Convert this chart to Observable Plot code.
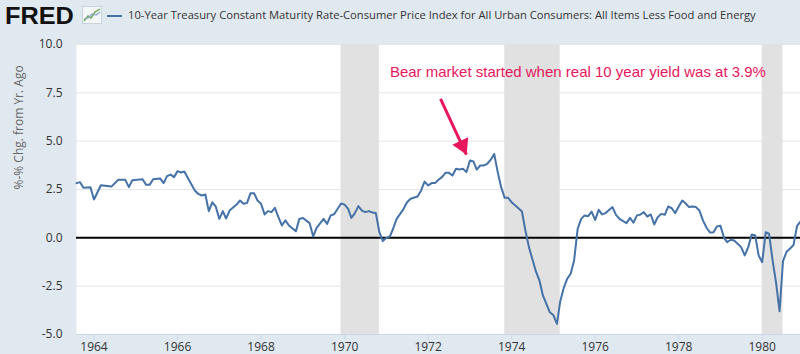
<!DOCTYPE html>
<html><head><meta charset="utf-8">
<script src="https://cdn.jsdelivr.net/npm/d3@7"></script>
<script src="https://cdn.jsdelivr.net/npm/@observablehq/plot@0.6"></script>
<style>
html,body{margin:0;padding:0;}
body{background:#e1e9f0;width:800px;height:354px;overflow:hidden;font-family:"Open Sans",sans-serif;}
#header{position:relative;height:36px;}
#logo{position:absolute;left:5px;top:3px;font:bold 23px "Liberation Sans",Arial,sans-serif;color:#111;transform-origin:left top;transform:scaleX(1.1);letter-spacing:0px;}
#icon{position:absolute;left:82px;top:6px;}
#swatch{position:absolute;left:107px;top:15px;width:15px;height:2px;background:#4572a7;}
#title{position:absolute;left:128px;top:7px;font-size:11.2px;color:#333;white-space:nowrap;}
</style>
</head><body>
<div id="header">
  <div id="logo">FRED</div>
  <svg id="icon" width="20" height="18" viewBox="0 0 20 18">
    <rect x="0.5" y="0.5" width="19" height="17" fill="#f4f6f8" stroke="#c9d3dc"/>
    <polyline points="2,15 6,10 9,12 13,6 18,3" fill="none" stroke="#6aa84f" stroke-width="1.4"/>
    <polyline points="2,13 6,12 10,8 14,9 18,6" fill="none" stroke="#8aa9c9" stroke-width="1.2"/>
  </svg>
  <div id="swatch"></div>
  <div id="title">10-Year Treasury Constant Maturity Rate-Consumer Price Index for All Urban Consumers: All Items Less Food and Energy</div>
</div>
<div id="chart"></div>
<script>
// ---- data ----
const dates = ["1963-08","1963-09","1963-10","1963-12","1964-01","1964-03","1964-06","1964-08","1964-10","1964-11","1964-12",
"1965-03","1965-04","1965-05","1965-06","1965-08","1965-09","1965-10","1965-11","1965-12",
"1966-01","1966-02","1966-03","1966-04","1966-06","1966-07","1966-08","1966-09","1966-10","1966-11","1966-12",
"1967-01","1967-02","1967-03","1967-04","1967-06","1967-07","1967-08","1967-09","1967-10","1967-11","1967-12",
"1968-01","1968-02","1968-03","1968-04","1968-05","1968-06","1968-07","1968-08","1968-09","1968-11","1968-12",
"1969-01","1969-03","1969-04","1969-05","1969-07","1969-08","1969-09","1969-10","1969-12",
"1970-01","1970-02","1970-03","1970-04","1970-05","1970-06","1970-07","1970-08","1970-09","1970-10","1970-11","1970-12",
"1971-01","1971-02","1971-03","1971-04","1971-06","1971-07","1971-08","1971-10","1971-11","1971-12",
"1972-01","1972-02","1972-03","1972-04","1972-05","1972-06","1972-07","1972-08","1972-09","1972-10","1972-11","1972-12",
"1973-01","1973-02","1973-03","1973-04","1973-05","1973-06","1973-07","1973-08","1973-09","1973-10","1973-11","1973-12",
"1974-01","1974-03","1974-04","1974-05","1974-06","1974-08","1974-09","1974-10","1974-12",
"1975-01","1975-02","1975-03","1975-04","1975-05","1975-06","1975-07","1975-08","1975-09","1975-10","1975-11","1975-12",
"1976-01","1976-02","1976-03","1976-04","1976-06","1976-07","1976-08","1976-10","1976-11","1976-12",
"1977-01","1977-02","1977-03","1977-04","1977-05","1977-06","1977-07","1977-08","1977-09","1977-10","1977-11","1977-12",
"1978-01","1978-02","1978-03","1978-04","1978-05","1978-06","1978-07","1978-08","1978-09","1978-10","1978-11","1978-12",
"1979-01","1979-02","1979-03","1979-04","1979-05","1979-07","1979-08","1979-09","1979-10","1979-11","1979-12",
"1980-01","1980-02","1980-03","1980-04","1980-05","1980-06","1980-07","1980-08","1980-09","1980-10","1980-11","1980-12"];
const values = [2.83,2.88,2.59,2.62,1.98,2.72,2.65,3.00,3.00,2.62,2.98,
3.03,2.74,2.74,3.03,3.07,2.83,3.19,3.27,3.14,
3.45,3.38,3.43,3.09,2.45,2.27,2.19,2.24,1.38,1.84,1.62,
0.98,1.38,1.00,1.41,1.72,1.93,1.76,1.81,2.31,2.31,1.93,
1.76,1.21,1.38,1.33,1.55,1.07,0.64,0.90,0.64,0.34,0.98,
1.03,0.76,0.07,0.52,0.98,0.72,1.16,1.22,1.78,
1.72,1.50,1.03,1.28,1.64,1.41,1.33,1.38,1.31,1.28,0.29,-0.17,
0.00,0.07,0.47,0.98,1.50,1.84,2.02,2.14,2.45,2.91,
2.71,2.83,2.83,3.00,3.14,3.36,3.36,3.22,3.57,3.53,3.57,3.40,
4.00,3.95,3.53,3.74,3.74,3.83,4.03,4.34,3.40,2.62,2.07,2.07,
1.84,1.53,1.36,0.38,-0.48,-1.74,-2.21,-2.98,-3.85,
-4.00,-4.45,-3.30,-2.60,-2.12,-1.86,-1.17,0.46,0.98,1.16,1.12,1.36,
0.93,1.45,1.21,1.28,1.59,1.19,0.98,0.76,1.03,0.78,
1.16,1.21,1.33,1.10,1.21,0.69,1.07,1.24,1.19,1.62,1.53,1.28,
1.62,1.93,1.79,1.59,1.62,1.59,1.41,0.90,0.52,0.28,0.29,0.59,
0.62,0.00,-0.22,-0.10,-0.14,-0.48,-0.91,-0.48,0.17,0.12,-0.91,
-1.26,0.29,0.21,-1.17,-2.30,-3.80,-1.20,-0.72,-0.55,-0.37,0.62,0.84];

const recessionStart = ["1969-12","1973-11","1980-01"];
const recessionEnd   = ["1970-11","1975-03","1980-07"];

const yTicks = [-5, -2.5, 0, 2.5, 5, 7.5, 10];
const xTickYears = ["1964","1966","1968","1970","1972","1974","1976","1978","1980"];
const xDomain = ["1963-08","1980-12"];
const yTitle = "%-% Chg. from Yr. Ago";

const noteText = ["Bear market started when real 10 year yield was at 3.9%"];
const noteX = ["1971-02-01"];
const noteY = [8.57];
const arrowFrom = {date: "1972-04-19", value: 7.19};
const arrowTo   = {date: "1972-12-01", value: 4.31};

// ---- build ----
const parseM = d3.utcParse("%Y-%m");
const parseD = d3.utcParse("%Y-%m-%d");
const parseY = d3.utcParse("%Y");
const series = dates.map((d, i) => ({date: parseM(d), value: values[i]}));
const recessions = recessionStart.map((s, i) => ({start: parseM(s), end: parseM(recessionEnd[i])}));
const xTicks = xTickYears.map(parseY);
const notes = noteText.map((t, i) => ({text: t, date: parseD(noteX[i]), value: noteY[i]}));
const arrows = [{x1: parseD(arrowFrom.date), y1: arrowFrom.value, x2: parseD(arrowTo.date), y2: arrowTo.value}];

const chart = Plot.plot({
  width: 800, height: 318,
  marginTop: 8, marginBottom: 20, marginLeft: 76, marginRight: 0,
  style: {background: "transparent", fontFamily: "'Open Sans', sans-serif", fontSize: "12px", color: "#333", overflow: "visible"},
  x: {type: "utc", domain: xDomain.map(parseM)},
  y: {domain: [-5, 10]},
  marks: [
    Plot.frame({fill: "white", stroke: null}),
    Plot.gridY(yTicks.filter(t => t !== 0 && t !== -5), {stroke: "#e6e6e6", strokeOpacity: 1}),
    Plot.rect(recessions, {x1: "start", x2: "end", y1: -5, y2: 10, fill: "#e1e1e1"}),
    Plot.ruleY([0], {stroke: "#000", strokeWidth: 2}),
    Plot.line(series, {x: "date", y: "value", stroke: "#4572a7", strokeWidth: 2}),
    Plot.ruleY([-5], {stroke: "#ccd6eb"}),
    Plot.axisY(yTicks, {tickSize: 0, tickPadding: 14, tickFormat: d => d.toFixed(1), label: null, fill: "#333"}),
    Plot.axisX(xTicks, {tickSize: 6, tickPadding: 2, stroke: "#ccd6eb", fill: "#333", tickFormat: d3.utcFormat("%Y"), label: null}),
    Plot.text([yTitle], {frameAnchor: "left", dx: -57, rotate: -90, fill: "#666", fontSize: 12}),
    Plot.text(notes, {x: "date", y: "value", text: "text", textAnchor: "start", fill: "#e8175d", fontSize: 15, fontFamily: "'Liberation Sans', Arial, sans-serif"}),
    Plot.link(arrows, {x1: "x1", y1: "y1", x2: "x2", y2: "y2", stroke: "#e8175d", strokeWidth: 3}),
    Plot.dot(arrows, {x: "x2", y: "y2", symbol: "triangle", r: 6.5, rotate: 155, fill: "#e8175d", stroke: null, dx: -4, dy: -9})
  ]
});
document.getElementById("chart").appendChild(chart);
</script>
</body></html>
